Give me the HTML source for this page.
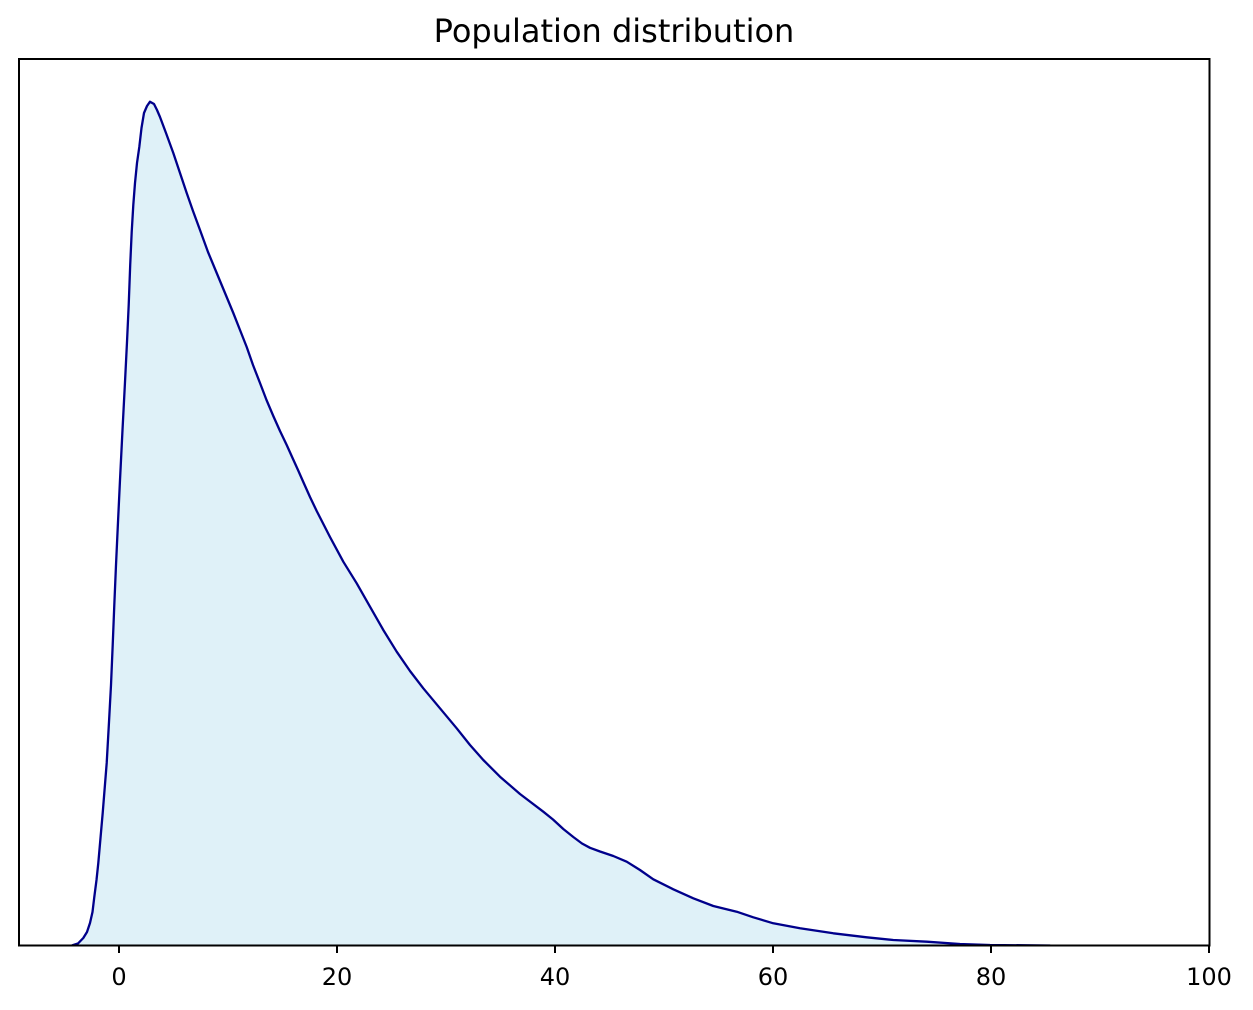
<!DOCTYPE html>
<html>
<head>
<meta charset="utf-8">
<style>
  html, body { margin: 0; padding: 0; background: #ffffff; }
  body { width: 1253px; height: 1010px; overflow: hidden; }
  svg { display: block; }
  text { font-family: "DejaVu Sans", "Liberation Sans", sans-serif; fill: #000; }
</style>
</head>
<body>
<svg width="1253" height="1010" viewBox="0 0 1253 1010" xmlns="http://www.w3.org/2000/svg">
  <rect x="0" y="0" width="1253" height="1010" fill="#ffffff"/>
  <text x="614" y="42" font-size="32" text-anchor="middle">Population distribution</text>

  <clipPath id="ax"><rect x="19" y="59" width="1191" height="887"/></clipPath>
  <g clip-path="url(#ax)">
    <polygon fill="#dff1f8" stroke="none" points="
72,945.5 73.3,945 78,943.5 83.3,938 87,932 90,923 92.5,912 94.3,897 96.5,880 98.3,863 100.5,838 102.7,813 104.7,788 106.7,763 109,722 111,685 112.7,645 114.3,605 116,565 118,522 120,480 122.5,430 125,382 127,342 128.7,305 130.2,265 131.7,232 133.3,205 135,183 137,163 139.3,147 141.5,128 144,113 147,106 150,101.7 154,104 157,110 160,117 166,133 173.3,153 180,173 186.7,193 193,211 200,230 208,252 216.7,273 225,293 233.3,313 240,330 246.7,347 253,365 260,383 266.5,400 273.3,416 280,431 286.7,445 293,459 298,470 303.3,482 310,497 316.7,511 330,537 343.3,561.7 356.7,583.3 370,606.7 383.3,630 396.7,651.7 410,671 423.3,688.3 440,708.3 456.7,728.3 470,745 483.3,760 500,776.7 520,794 543.3,811.7 553,819.5 563.3,829 573.3,837 582,843.5 590,847.8 600,851.5 613.3,856 626.7,861.7 640,870 653.3,879.3 673.3,889.3 693.3,898.3 713.3,906 736.7,911.7 753.3,917.3 773.3,923.3 800,928.3 833.3,933.3 866.7,937.3 893.3,940 926.7,941.7 960,944 990,945 1027,945.3 1050,945.5 1050,946 72,946"/>
    <polyline fill="none" stroke="#00008b" stroke-width="2.3" stroke-linejoin="round" stroke-linecap="round" points="
72,945.5 73.3,945 78,943.5 83.3,938 87,932 90,923 92.5,912 94.3,897 96.5,880 98.3,863 100.5,838 102.7,813 104.7,788 106.7,763 109,722 111,685 112.7,645 114.3,605 116,565 118,522 120,480 122.5,430 125,382 127,342 128.7,305 130.2,265 131.7,232 133.3,205 135,183 137,163 139.3,147 141.5,128 144,113 147,106 150,101.7 154,104 157,110 160,117 166,133 173.3,153 180,173 186.7,193 193,211 200,230 208,252 216.7,273 225,293 233.3,313 240,330 246.7,347 253,365 260,383 266.5,400 273.3,416 280,431 286.7,445 293,459 298,470 303.3,482 310,497 316.7,511 330,537 343.3,561.7 356.7,583.3 370,606.7 383.3,630 396.7,651.7 410,671 423.3,688.3 440,708.3 456.7,728.3 470,745 483.3,760 500,776.7 520,794 543.3,811.7 553,819.5 563.3,829 573.3,837 582,843.5 590,847.8 600,851.5 613.3,856 626.7,861.7 640,870 653.3,879.3 673.3,889.3 693.3,898.3 713.3,906 736.7,911.7 753.3,917.3 773.3,923.3 800,928.3 833.3,933.3 866.7,937.3 893.3,940 926.7,941.7 960,944 990,945 1027,945.3 1050,945.5"/>
  </g>

  <rect x="19" y="59" width="1190.5" height="886.5" fill="none" stroke="#000" stroke-width="2"/>

  <g stroke="#000" stroke-width="2">
    <line x1="119" y1="946" x2="119" y2="953"/>
    <line x1="337" y1="946" x2="337" y2="953"/>
    <line x1="555" y1="946" x2="555" y2="953"/>
    <line x1="773" y1="946" x2="773" y2="953"/>
    <line x1="991" y1="946" x2="991" y2="953"/>
    <line x1="1209" y1="946" x2="1209" y2="953"/>
  </g>
  <g font-size="24" text-anchor="middle">
    <text x="119" y="985">0</text>
    <text x="337" y="985">20</text>
    <text x="555" y="985">40</text>
    <text x="773" y="985">60</text>
    <text x="991" y="985">80</text>
    <text x="1209" y="985">100</text>
  </g>
</svg>
</body>
</html>
